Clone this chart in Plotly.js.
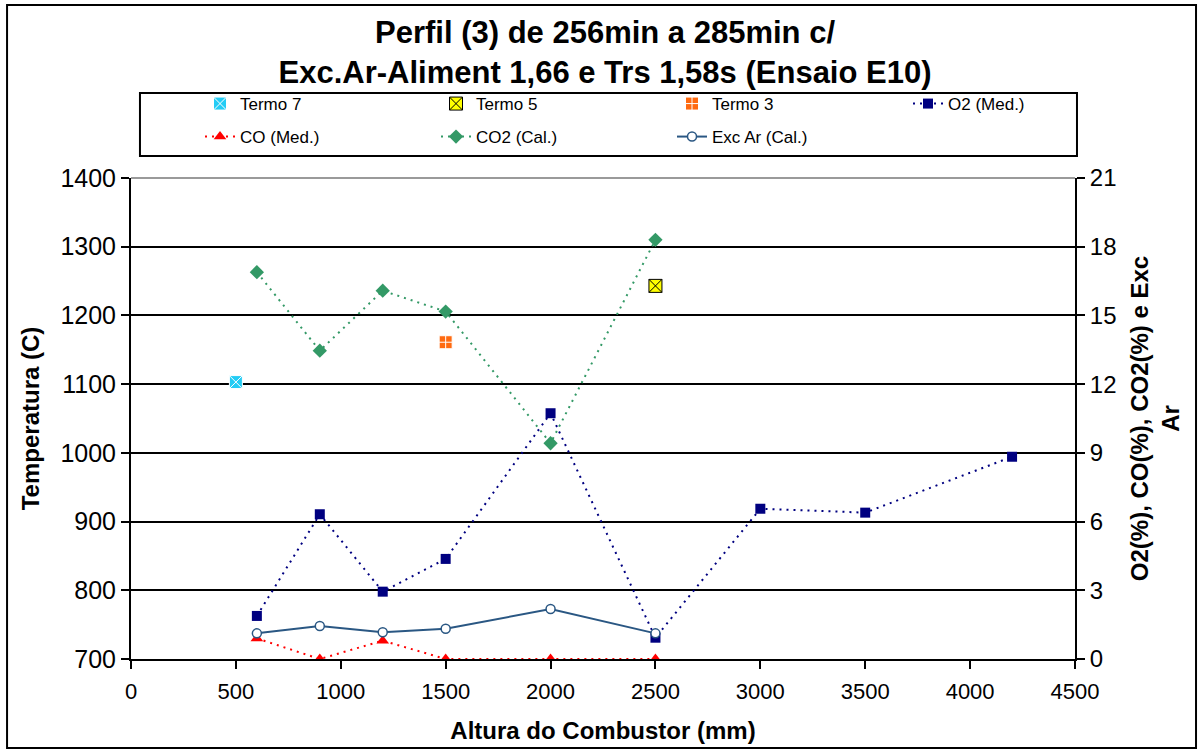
<!DOCTYPE html>
<html><head><meta charset="utf-8">
<script src="https://cdn.plot.ly/plotly-3.0.1.min.js"></script>
<style>html,body{margin:0;padding:0;background:#fff}</style>
</head><body><div id="chart" style="width:1199px;height:749px"></div>
<script>
// ---- data ----
const termo7X = [500],  termo7Y = [1103];
const termo5X = [2500], termo5Y = [1243];
const termo3X = [1500], termo3Y = [1161];
const o2X  = [600, 900, 1200, 1500, 2000, 2500, 3000, 3500, 4200];
const o2Y  = [1.88, 6.32, 2.94, 4.37, 10.73, 0.93, 6.56, 6.39, 8.83];
const coX  = [600, 900, 1200, 1500, 2000, 2500];
const coY  = [0.9, 0.0, 0.8, 0.0, 0.0, 0.0];
const co2X = [600, 900, 1200, 1500, 2000, 2500];
const co2Y = [16.89, 13.46, 16.08, 15.17, 9.42, 18.3];
const excX = [600, 900, 1200, 1500, 2000, 2500];
const excY = [1.12, 1.44, 1.17, 1.32, 2.18, 1.12];
const names = ['Termo 7', 'Termo 5', 'Termo 3', 'O2 (Med.)', 'CO (Med.)', 'CO2 (Cal.)', 'Exc Ar (Cal.)'];
const xTitle  = 'Altura do Combustor (mm)';
const yTitle  = 'Temperatura (C)';
const y2Title = 'O2(%), CO(%), CO2(%) e Exc<br>Ar';
const chartTitle = 'Perfil (3) de 256min a 285min c/<br>Exc.Ar-Aliment 1,66 e Trs 1,58s (Ensaio E10)';

const FONT = 'Liberation Sans, Arial, sans-serif';
const DOT = '2px,5px';

const traces = [
  {x: termo7X, y: termo7Y, name: names[0], mode: 'markers', legend: 'legend',
   marker: {symbol: 'square-x', size: 13, color: '#22CCF5', line: {color: '#ffffff', width: 1}}},
  {x: termo5X, y: termo5Y, name: names[1], mode: 'markers', legend: 'legend',
   marker: {symbol: 'square-x', size: 13, color: '#FFFF00', line: {color: '#000000', width: 1}}},
  {x: termo3X, y: termo3Y, name: names[2], mode: 'markers', legend: 'legend',
   marker: {symbol: 'square-cross', size: 13, color: '#FF6A10', line: {color: '#ffffff', width: 1}}},
  {x: o2X, y: o2Y, name: names[3], mode: 'lines+markers', yaxis: 'y2', legend: 'legend',
   line: {color: '#000080', width: 2, dash: DOT},
   marker: {symbol: 'square', size: 10, color: '#000080'}},
  {x: coX, y: coY, name: names[4], mode: 'lines+markers', yaxis: 'y2', legend: 'legend2',
   line: {color: '#FF0000', width: 2, dash: DOT},
   marker: {symbol: 'triangle-up', size: 11, color: '#FF0000'}},
  {x: co2X, y: co2Y, name: names[5], mode: 'lines+markers', yaxis: 'y2', legend: 'legend2',
   line: {color: '#339966', width: 2, dash: DOT},
   marker: {symbol: 'diamond', size: 11, color: '#339966'}},
  {x: excX, y: excY, name: names[6], mode: 'lines+markers', yaxis: 'y2', legend: 'legend2',
   line: {color: '#2A5783', width: 2},
   marker: {symbol: 'circle', size: 9, color: '#ffffff', line: {color: '#2A5783', width: 1.5}}}
];

const legendCommon = {
  orientation: 'h', xref: 'paper', yref: 'paper', xanchor: 'left', yanchor: 'middle',
  entrywidth: 191, entrywidthmode: 'pixels', bgcolor: 'rgba(0,0,0,0)', borderwidth: 0,
  font: {family: FONT, size: 17, color: '#000'}, traceorder: 'normal'
};

const layout = {
  width: 1199, height: 749,
  paper_bgcolor: '#ffffff', plot_bgcolor: '#ffffff',
  font: {family: FONT, color: '#000'},
  margin: {l: 131, r: 124, t: 178, b: 90, autoexpand: false},
  title: {text: chartTitle, font: {family: FONT, size: 31, color: '#000', weight: 'bold'},
          xref: 'container', x: 0.5046, xanchor: 'center', yref: 'container', y: 0.9426, yanchor: 'middle'},
  showlegend: true,
  legend: Object.assign({}, legendCommon, {x: 0.0731, y: 1.1538}),
  legend2: Object.assign({}, legendCommon, {x: 0.0731, y: 1.0852}),
  xaxis: {
    range: [0, 4500], dtick: 500, tick0: 0, showgrid: false, zeroline: false,
    showline: true, linecolor: '#000', linewidth: 2, ticks: 'outside', ticklen: 8, tickwidth: 2, tickcolor: '#000',
    ticklabelstandoff: 4,
    tickfont: {family: FONT, size: 22, color: '#000'},
    title: {text: xTitle, font: {family: FONT, size: 24, color: '#000', weight: 'bold'}, standoff: 19}
  },
  yaxis: {
    range: [700, 1400], dtick: 100, tick0: 700, showgrid: true, gridcolor: '#000', gridwidth: 2, zeroline: false,
    showline: true, linecolor: '#000', linewidth: 2, ticks: 'outside', ticklen: 8, tickwidth: 2, tickcolor: '#000',
    tickfont: {family: FONT, size: 25, color: '#000'},
    title: {text: yTitle, font: {family: FONT, size: 24, color: '#000', weight: 'bold'}, standoff: 14}
  },
  yaxis2: {
    overlaying: 'y', side: 'right', range: [0, 21], dtick: 3, tick0: 0, showgrid: false, zeroline: false,
    showline: true, linecolor: '#000', linewidth: 2, ticks: 'outside', ticklen: 8, tickwidth: 2, tickcolor: '#000',
    tickfont: {family: FONT, size: 24, color: '#000'},
    title: {text: y2Title, font: {family: FONT, size: 24, color: '#000', weight: 'bold'}, standoff: 16}
  },
  shapes: [
    // outer chart frame
    {type: 'rect', xref: 'paper', yref: 'paper', x0: -0.1313, x1: 1.1282, y0: -0.1850, y1: 1.3597,
     line: {color: '#000', width: 2}, layer: 'below'},
    // legend frame
    {type: 'rect', xref: 'paper', yref: 'paper', x0: 0.0095, x1: 1.0021, y0: 1.0457, y1: 1.1767,
     line: {color: '#000', width: 2}, fillcolor: 'rgba(0,0,0,0)', layer: 'below'},
    // grey top border of plot area
    {type: 'line', xref: 'paper', yref: 'paper', x0: 0, x1: 1, y0: 1, y1: 1,
     line: {color: '#9a9a9a', width: 2}, layer: 'above'}
  ]
};

Plotly.newPlot('chart', traces, layout, {displayModeBar: false, staticPlot: true});
</script></body></html>
